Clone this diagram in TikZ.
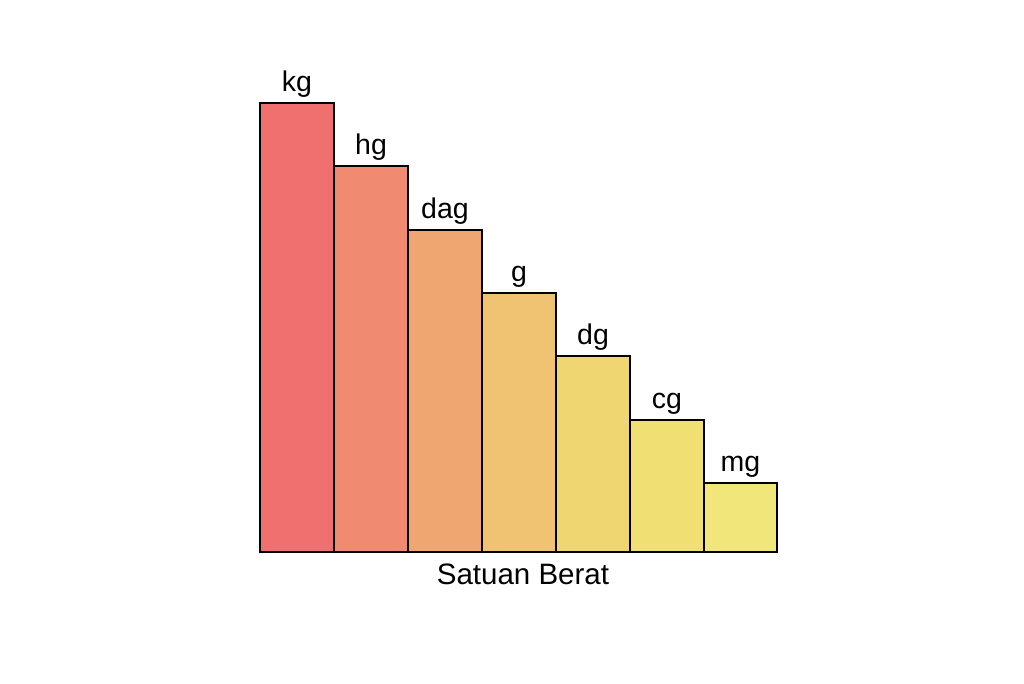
\documentclass[tikz,border=0pt]{standalone}
\usepackage{fontspec}
\setmainfont{Liberation Sans}
\definecolor{ckg}{RGB}{240,112,112}
\definecolor{chg}{RGB}{240,138,112}
\definecolor{cdag}{RGB}{240,166,113}
\definecolor{cg}{RGB}{240,195,115}
\definecolor{cdg}{RGB}{240,214,113}
\definecolor{ccg}{RGB}{240,224,116}
\definecolor{cmg}{RGB}{240,230,122}
\begin{document}
\begin{tikzpicture}[x=1pt,y=-1pt,
  barbox/.style={draw=black,line width=2pt,inner sep=0pt,outer sep=0pt},
  lbl/.style={font=\fontsize{28.5}{33}\selectfont,anchor=base,inner sep=0pt}]
\useasboundingbox[fill=white] (0,0) rectangle (1024,683);
\foreach \nm/\l/\r/\t/\c in {kg/260/334/103/ckg, hg/334/408/166/chg, dag/408/482/230/cdag, g/482/556/293/cg, dg/556/630/356/cdg, cg/630/704/420/ccg, mg/704/777/483/cmg}{
  \path[barbox,fill=\c] (\l,552) rectangle (\r,\t);
  \node[lbl] (l\nm) at ({(\l+\r)/2},{\t-12}) {\nm};
}
\node[font=\fontsize{29.5}{34}\selectfont,anchor=base,inner sep=0pt] (xl) at (523,584) {Satuan Berat};
\end{tikzpicture}
\end{document}
